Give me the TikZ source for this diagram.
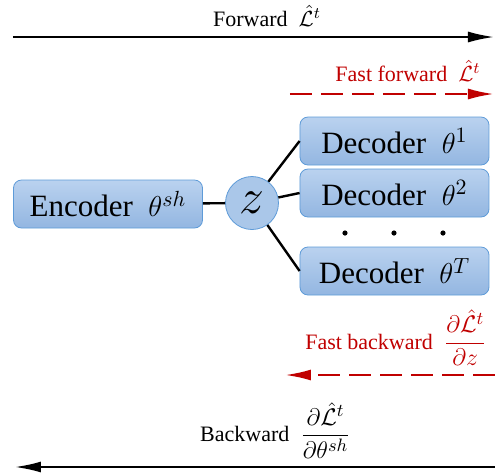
\documentclass[tikz,border=0pt]{standalone}
\usepackage{fontspec}
\setmainfont{Liberation Serif}
\usepackage{amsmath}
\usetikzlibrary{arrows.meta,positioning,shapes}
\definecolor{boxtop}{HTML}{BAD2EF}
\definecolor{boxbottom}{HTML}{93B6E1}
\definecolor{boxborder}{HTML}{5E9BD8}
\definecolor{darkred}{HTML}{C00000}
\newcommand{\fracsize}{\fontsize{12.5}{15}\selectfont}

\begin{document}
\begin{tikzpicture}[x=0.5pt,y=-0.5pt]
\tikzstyle{block}=[rectangle,rounded corners=4pt,draw=boxborder,top color=boxtop,bottom color=boxbottom,minimum width=94.5pt,minimum height=24pt,inner sep=0pt,font=\fontsize{15.5}{18}\selectfont]
\tikzstyle{latent}=[circle,draw=boxborder,fill=boxtop!60!boxbottom,minimum size=26.5pt,inner sep=0pt,font=\fontsize{24}{24}\selectfont]
\tikzstyle{dot}=[circle,fill=black,minimum size=2.6pt,inner sep=0pt]
\tikzstyle{lbl}=[inner sep=0pt,anchor=base,font=\fontsize{11}{13}\selectfont]
\tikzstyle{pass}=[-{Latex[length=13pt,width=5.5pt]},line width=1pt]
\tikzstyle{fastpass}=[pass,darkred,line width=1.2pt,dash pattern=on 11pt off 4.5pt]

\useasboundingbox (0,0) rectangle (495,473);

%%%%%%%%%%%%%%%%%%%%%%%%%%%%%%%%%%%%%%%%%%%%%%%%%%%%%%%%%%%%%%%%%%%%%%%%
%network
\node[block] (encoder) at (108,204) {Encoder\enspace$\theta^{sh}$};
\node[latent] (z) at (252,203) {$z$};
%decoders
\node[block] (decoder1) at (394.5,141) {Decoder\enspace$\theta^{1}$};
\node[block] (decoder2) at (394.5,193) {Decoder\enspace$\theta^{2}$};
\node[block] (decoderT) at (394.5,271) {Decoder\enspace$\theta^{T}$};
%dots
\node[dot] (dot1) at (345,233) {};
\node[dot] (dot2) at (394,233) {};
\node[dot] (dot3) at (443,233) {};

%%%%%%%%%%%%%%%%%%%%%%%%%%%%%%%%%%%%%%%%%%%%%%%%%%%%%%%%%%%%%%%%%%%%%%%%
%labels
\node[lbl] (fwdlabel) at (267,26) {Forward\ \ $\hat{\mathcal{L}}^t$};
\node[lbl,darkred] (fastfwdlabel) at (408,81) {Fast forward\ \ $\hat{\mathcal{L}}^t$};
\node[lbl,darkred] (fastbwdlabel) at (396,349) {Fast backward\ \ {\fracsize$\dfrac{\partial\hat{\mathcal{L}}^t}{\partial z}$}};
\node[lbl] (bwdlabel) at (275.5,441.5) {Backward\ \ {\fracsize$\dfrac{\partial\hat{\mathcal{L}}^t}{\partial\theta^{sh}}$}};

%ends of the passes
\coordinate (fwd0) at (13,37);
\coordinate (fwd1) at (494,37);
\coordinate (fastfwd0) at (290,94);
\coordinate (fastfwd1) at (494,94);
\coordinate (fastbwd0) at (495,375);
\coordinate (fastbwd1) at (285,375);
\coordinate (bwd0) at (495,467);
\coordinate (bwd1) at (15,467);

%%%%%%%%%%%%%%%%%%%%%%%%%%%%%%%%%%%%%%%%%%%%%%%%%%%%%%%%%%%%%%%%%%%%%%%%
%LINES
\draw[line width=1.2pt] (encoder) -- (z);
\draw[line width=1.2pt] (z) -- (decoder1.west);
\draw[line width=1.2pt] (z) -- (decoder2.west);
\draw[line width=1.2pt] (z) -- (decoderT.west);

%ARROWS
\draw[pass] (fwd0) -- (fwd1);
\draw[fastpass] (fastfwd0) -- (fastfwd1);
\draw[fastpass] (fastbwd0) -- (fastbwd1);
\draw[pass] (bwd0) -- (bwd1);

\end{tikzpicture}
\end{document}
